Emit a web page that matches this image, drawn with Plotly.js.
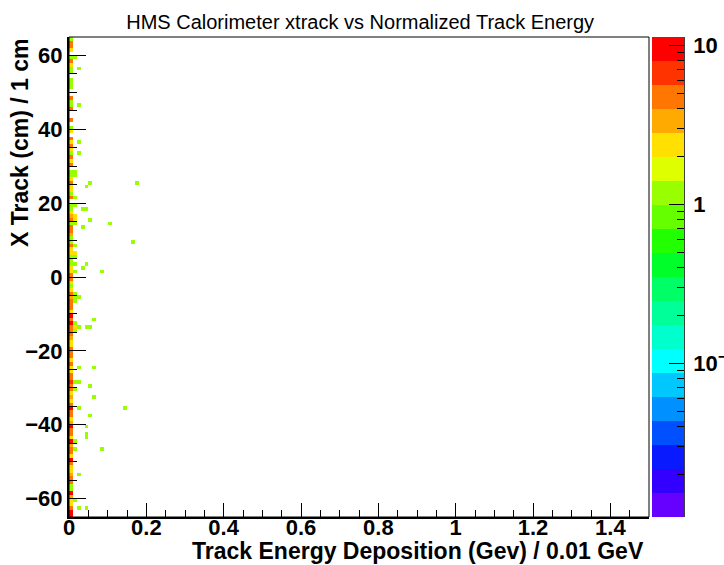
<!DOCTYPE html>
<html><head><meta charset="utf-8">
<script src="https://cdn.plot.ly/plotly-3.0.1.min.js"></script>
<style>html,body{margin:0;padding:0;background:#fff;}#chart{width:724px;height:565px;}</style>
</head><body><div id="chart"></div>
<script>
// ---- data ----
const xBinWidth = 0.01;          // GeV per bin
const yBinLow = -65;             // cm, lower edge of first y bin
const nYBins = 130;              // 1 cm bins from -65 to 65
const nXBins = 18;               // bins drawn (0 .. 0.18 GeV)

// counts in first energy bin (0-0.01 GeV), y bins from -65 upward
const col0Counts = [
  9,9,4,2,2,3,9,1,1,4,5,3,2,2,4,9,2,4,5,3,9,2,4,5,9,3,2,5,4,9,4,2,3,2,4,5,7,4,5,2,2,4,2,4,5,
  4,2,2,3,4,5,4,9,5,9,2,4,4,5,3,4,2,1,2,4,5,2,2,1,1,1,2,2,4,1,1,3,4,4,1,4,3,2,1,1,0,4,1,2,
  2,4,2,1,1,0,4,2,4,1,2,4,2,4,0,2,1,0,5,0,0,4,1,1,4,0,0,1,1,1,0,1,1,2,4,1,0,2,4,4,1
];

// other filled cells: energy bin lower edge (GeV), x-track bin lower edge (cm), count
const extraX = [0.01,0.01,0.01,0.01,0.01,0.01,0.01,0.01,0.01,0.01,0.01,0.01,0.01,0.01,0.01,0.01,0.01,0.01,0.01,0.01,0.01,0.01,0.01,0.01,
  0.02,0.02,0.02,0.02,0.02,0.02,0.02,0.02,0.02,0.02,0.02,
  0.03,0.03,0.03,
  0.04,0.04,0.04,0.04,0.04,0.04,0.04,0.04,
  0.05,0.05,0.05,0.05,0.05,
  0.06,0.06,0.06,
  0.08,0.08,
  0.10,0.14,0.16,0.17];
const extraY = [59,28,27,21,19,16,15,14,8,6,5,3,1,-5,-6,-7,-13,-14,-15,-29,-31,-45,-47,-61,
  56,46,36,33,-6,-14,-25,-29,-36,-54,-63,
  18,13,2,
  24,18,3,-14,-41,-43,-44,-63,
  25,15,-14,-30,-38,
  -12,-25,-33,
  1,-47,
  14,-36,9,25];
const extraCount = [1,1,1,1,1,2,2,1,1,2,1,1,1,1,1,1,1,2,1,1,1,1,1,1,
  1,1,1,1,1,1,1,1,1,1,1,
  1,1,1,
  1,1,1,1,1,1,1,1,
  1,1,1,1,1,
  1,1,1,
  1,1,
  1,1,1,1];

// palette bands, bottom to top
const bandColors = ['#6600ff','#3300ff','#0a1aff','#0050ff','#0090ff','#00c8ff','#00ffff','#00ffcc','#00ff99','#00ff66',
  '#00ff2a','#22ff00','#66ff00','#99ff00','#ddff00','#ffe000','#ffaa00','#ff7700','#ff3300','#ff0000'];
const zLogMin = -1.967, zLogMax = 1.052;
const cbMajorVals = [0.1, 1, 10];
const cbMajorText = ['10<sup>−1</sup>', '1', '10'];
const cbMinorVals = [0.02,0.03,0.04,0.05,0.06,0.07,0.08,0.09,0.2,0.3,0.4,0.5,0.6,0.7,0.8,0.9,2,3,4,5,6,7,8,9];

// ---- build grid ----
const z = [];
for (let r = 0; r < nYBins; r++) {
  const row = new Array(nXBins).fill(null);
  if (col0Counts[r] > 0) row[0] = Math.log10(col0Counts[r]);
  z.push(row);
}
for (let i = 0; i < extraX.length; i++) {
  const c = Math.round(extraX[i] / xBinWidth);
  const r = extraY[i] - yBinLow;
  z[r][c] = Math.log10(extraCount[i]);
}
const colorscale = [];
bandColors.forEach((c, i) => { colorscale.push([i / bandColors.length, c]); colorscale.push([(i + 1) / bandColors.length, c]); });

const font = 'Liberation Sans, Arial, Helvetica, sans-serif';
const cbGeom = { x: 1 + 3 / 580, xanchor: 'left', xpad: 0, y: 0.5, yanchor: 'middle', ypad: 0, len: 1, lenmode: 'fraction',
  thickness: 32, thicknessmode: 'pixels', outlinewidth: 0 };

const heat = {
  type: 'heatmap', z: z, x0: xBinWidth / 2, dx: xBinWidth, y0: yBinLow + 0.5, dy: 1,
  zmin: zLogMin, zmax: zLogMax, colorscale: colorscale, hoverongaps: false,
  colorbar: Object.assign({}, cbGeom, {
    tickmode: 'array', tickvals: cbMajorVals.map(Math.log10), ticktext: cbMajorText.map(t => '\u2009' + t),
    ticks: 'inside', ticklen: 15, tickwidth: 1, tickcolor: '#000',
    tickfont: { family: font, size: 22, weight: 'bold', color: '#000' }
  })
};
// transparent copy of the same histogram, only used to draw the minor colour-axis ticks
const minorBar = {
  type: 'heatmap', z: z, x0: xBinWidth / 2, dx: xBinWidth, y0: yBinLow + 0.5, dy: 1,
  zmin: zLogMin, zmax: zLogMax, colorscale: [[0, 'rgba(0,0,0,0)'], [1, 'rgba(0,0,0,0)']], hoverinfo: 'skip',
  colorbar: Object.assign({}, cbGeom, {
    tickmode: 'array', tickvals: cbMinorVals.map(Math.log10), ticktext: cbMinorVals.map(() => ''),
    ticks: 'inside', ticklen: 7, tickwidth: 1, tickcolor: '#000', showticklabels: false
  })
};

const layout = {
  width: 724, height: 565,
  margin: { l: 69, r: 75, t: 37, b: 48, pad: 0, autoexpand: false },
  paper_bgcolor: '#fff', plot_bgcolor: '#fff',
  font: { family: font, color: '#000' },
  showlegend: false,
  title: { text: 'HMS Calorimeter xtrack vs Normalized Track Energy', font: { family: font, size: 20, color: '#000' },
    x: 0.502, xref: 'paper', xanchor: 'center', y: 1 - 22 / 565, yref: 'container', yanchor: 'middle' },
  xaxis: { range: [0, 1.5], tick0: 0, dtick: 0.2, ticks: 'inside', ticklen: 14, tickwidth: 1, tickcolor: '#000',
    minor: { dtick: 0.05, ticks: 'inside', ticklen: 7, tickwidth: 1, tickcolor: '#000' },
    showgrid: false, zeroline: false, showline: true, linewidth: 2, linecolor: '#000',
    ticklabelstandoff: -10,
    tickfont: { family: font, size: 22, weight: 'bold' }, fixedrange: true, automargin: false },
  yaxis: { range: [-65, 65], tick0: 0, dtick: 20, ticks: 'inside', ticklen: 17, tickwidth: 1, tickcolor: '#000',
    minor: { dtick: 5, ticks: 'inside', ticklen: 8, tickwidth: 1, tickcolor: '#000' },
    showgrid: false, zeroline: false, showline: true, linewidth: 2, linecolor: '#000',
    tickfont: { family: font, size: 22, weight: 'bold' }, fixedrange: true, automargin: false },
  shapes: [
    { type: 'rect', xref: 'paper', yref: 'paper', x0: 0, x1: 1, y0: 0, y1: 1, line: { color: '#000', width: 1 } },
    { type: 'line', xref: 'paper', yref: 'paper', x0: 1 + 35 / 580, x1: 1 + 35 / 580, y0: 0, y1: 1, line: { color: '#000', width: 1.5 } }
  ],
  annotations: [
    { text: '<b>Track Energy Deposition (Gev) / 0.01 GeV</b>', xref: 'paper', yref: 'paper', x: 0.995, y: -34 / 480,
      xanchor: 'right', yanchor: 'middle', showarrow: false, font: { family: font, size: 23, color: '#000' } },
    { text: '<b>X Track (cm) / 1 cm</b>', xref: 'paper', yref: 'paper', x: -49 / 580, y: 1, textangle: -90,
      xanchor: 'center', yanchor: 'top', showarrow: false, font: { family: font, size: 23, color: '#000' } }
  ]
};

Plotly.newPlot('chart', [heat, minorBar], layout, { displayModeBar: false, staticPlot: true });
</script></body></html>
